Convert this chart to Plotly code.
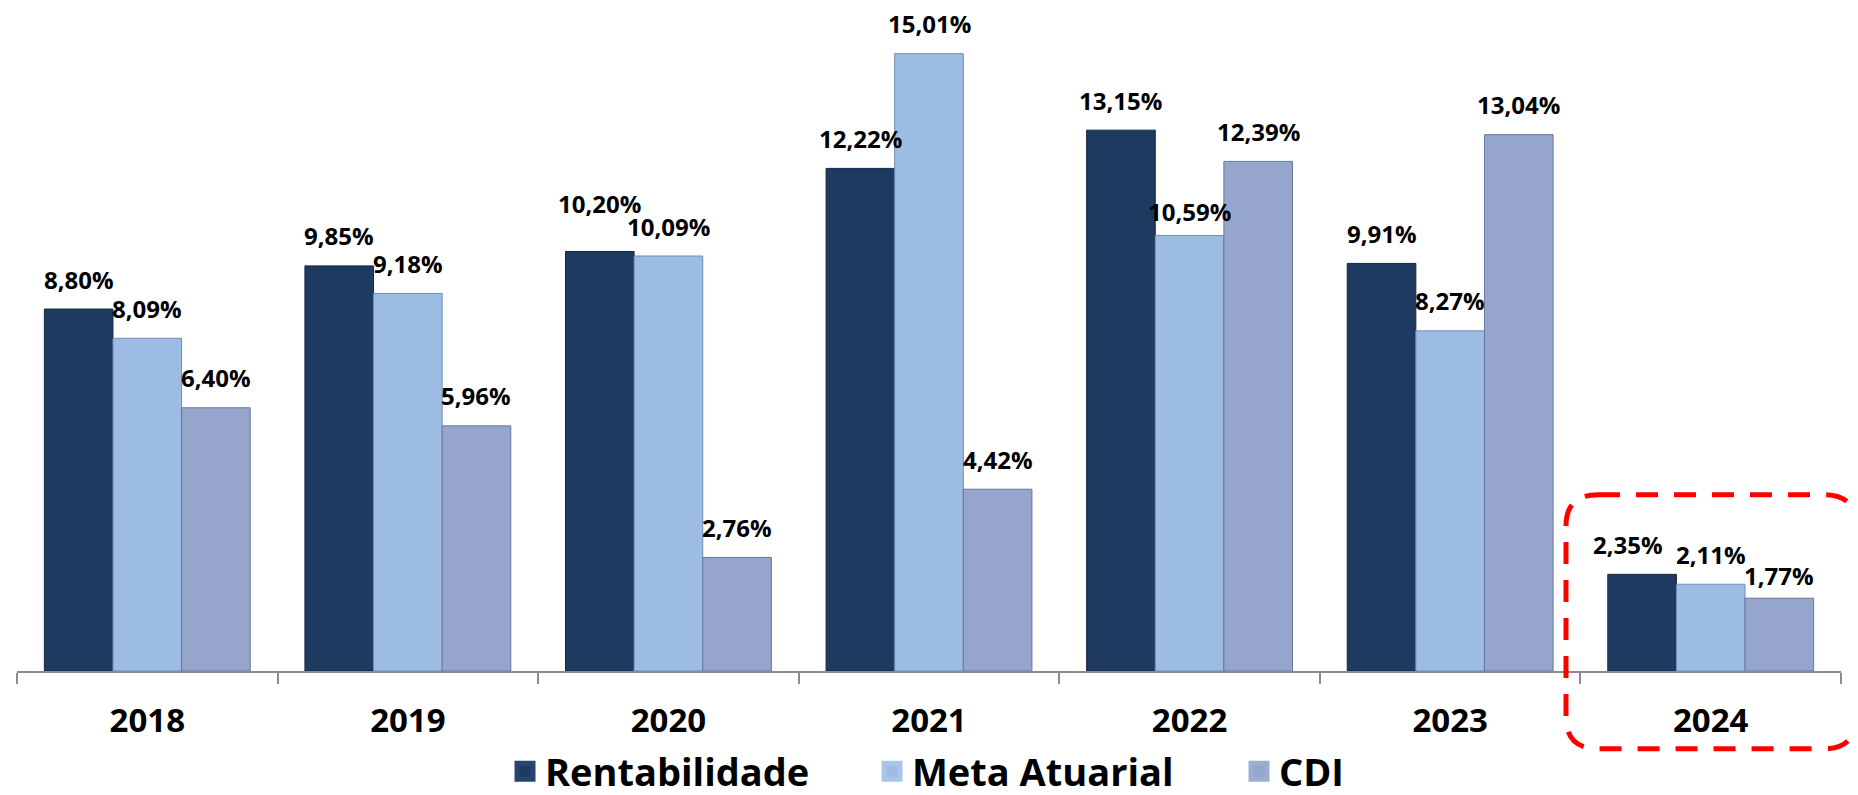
import plotly.graph_objects as go

years = ["2018", "2019", "2020", "2021", "2022", "2023", "2024"]
rentabilidade = [8.80, 9.85, 10.20, 12.22, 13.15, 9.91, 2.35]
meta_atuarial = [8.09, 9.18, 10.09, 15.01, 10.59, 8.27, 2.11]
cdi = [6.40, 5.96, 2.76, 4.42, 12.39, 13.04, 1.77]

series_names = ["Rentabilidade", "Meta Atuarial", "CDI"]
series_values = [rentabilidade, meta_atuarial, cdi]
colors = ["#1F3A60", "#9DBCE3", "#95A5CB"]
line_colors = ["#142740", "#6F8DB5", "#667799"]
legend_line_colors = ["#26456F", "#A9C6EA", "#9DADD2"]

# manual label nudges (pixels) as in the original slide: (series index, year index) -> (dx, dy)
label_nudges = {(0, 2): (0, 18), (1, 4): (0, -6), (0, 6): (-14, 0), (2, 6): (0, -7)}

W, H = 1858, 795
ML, MR, MT, MB = 9, 25, 0, 122
PW = W - ML - MR
PH = H - MT - MB
BARGAP = 0.21
FONT = "Open Sans"

fig = go.Figure()
for name, vals, c, lc, llc in zip(series_names, series_values, colors, line_colors, legend_line_colors):
    fig.add_trace(go.Bar(
        x=years, y=vals, name=name, showlegend=False,
        marker=dict(color=c, line=dict(color=lc, width=1)),
        hoverinfo="x+y+name",
    ))
    fig.add_trace(go.Scatter(
        x=[None], y=[None], mode="markers", name=name,
        marker=dict(symbol="square", size=16, color=c, line=dict(color=llc, width=5)),
    ))

# data labels
bw = (1 - BARGAP) / 3
annotations = []
for k, vals in enumerate(series_values):
    for i, v in enumerate(vals):
        dx, dy = label_nudges.get((k, i), (0, 0))
        annotations.append(dict(
            x=i + (k - 1) * bw, y=v, xref="x", yref="y",
            text=f"{v:.2f}".replace(".", ",") + "%",
            showarrow=False, yanchor="middle", yshift=30 + dy, xshift=dx,
            font=dict(family=FONT, size=24, color="#000000", weight=700),
        ))

# dashed rounded highlight box around 2024 (pixel geometry -> paper coords)
bx0, bx1, by0, by1, r = 1558, 1848, 494, 752, 32
def px(x):
    return (x - ML) / PW
def py(y):
    return (MT + PH - y) / PH
path = (
    f"M {px(bx0 + r)} {py(by0)} L {px(bx1 - r)} {py(by0)} "
    f"Q {px(bx1)} {py(by0)} {px(bx1)} {py(by0 + r)} "
    f"L {px(bx1)} {py(by1 - r)} "
    f"Q {px(bx1)} {py(by1)} {px(bx1 - r)} {py(by1)} "
    f"L {px(bx0 + r)} {py(by1)} "
    f"Q {px(bx0)} {py(by1)} {px(bx0)} {py(by1 - r)} "
    f"L {px(bx0)} {py(by0 + r)} "
    f"Q {px(bx0)} {py(by0)} {px(bx0 + r)} {py(by0)} Z"
)

fig.update_layout(
    width=W, height=H,
    margin=dict(l=ML, r=MR, t=MT, b=MB, pad=0),
    paper_bgcolor="white", plot_bgcolor="white",
    barmode="group", bargap=BARGAP, bargroupgap=0,
    annotations=annotations,
    shapes=[dict(type="path", path=path, xref="paper", yref="paper",
                 line=dict(color="#FF0000", width=5, dash="22px,16px"),
                 fillcolor="rgba(0,0,0,0)", layer="above")],
    legend=dict(
        orientation="h", x=(497 - ML) / PW, xanchor="left",
        y=py(775), yanchor="middle",
        font=dict(family=FONT, size=38, color="#000000", weight=700),
        entrywidth=322, entrywidthmode="pixels",
        bgcolor="rgba(0,0,0,0)",
    ),
    xaxis=dict(
        type="category", range=[-0.5, 6.5],
        showline=True, linecolor="#8C8C8C", linewidth=1.5,
        ticks="outside", tickson="boundaries", ticklen=11,
        tickcolor="#8C8C8C", tickwidth=1.5,
        tickfont=dict(family=FONT, size=33, color="#000000", weight=700),
        ticklabelstandoff=20,
        showgrid=False, zeroline=False,
    ),
    yaxis=dict(
        range=[0, 16.12], visible=False, showgrid=False, zeroline=False,
    ),
)

fig.write_html("out.html")
